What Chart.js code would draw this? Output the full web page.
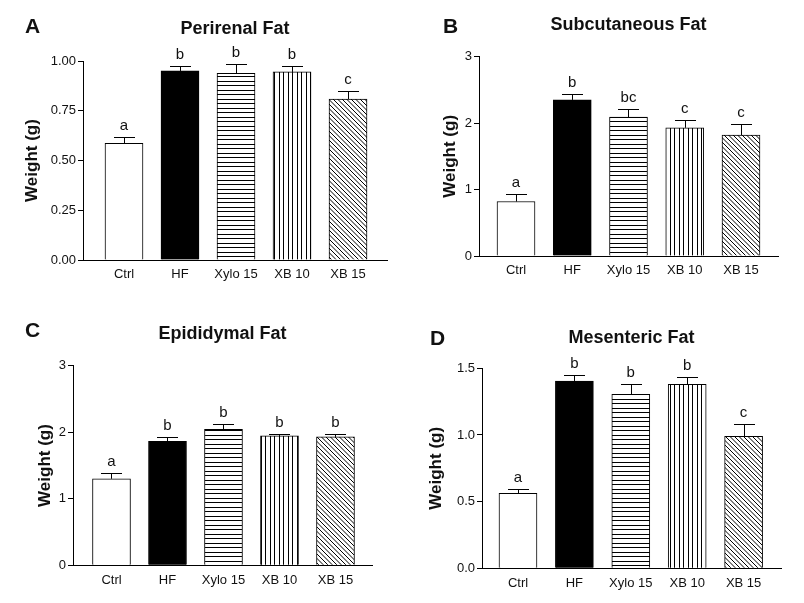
<!DOCTYPE html>
<html>
<head>
<meta charset="utf-8">
<script src="https://cdn.jsdelivr.net/npm/chart.js@4.4.1/dist/chart.umd.min.js"></script>
<style>
body { margin: 0; background: #fff; width: 804px; height: 603px; position: relative; overflow: hidden; }
canvas { position: absolute; }
</style>
</head>
<body>
<canvas id="panelA" width="400" height="300" style="left:0;top:0"></canvas>
<canvas id="panelB" width="404" height="300" style="left:400px;top:0"></canvas>
<canvas id="panelC" width="400" height="303" style="left:0;top:300px"></canvas>
<canvas id="panelD" width="404" height="303" style="left:400px;top:300px"></canvas>
<script>
// groups on the x axis
const groups = ['Ctrl', 'HF', 'Xylo 15', 'XB 10', 'XB 15'];

// A - perirenal fat
const perirenalMean = [0.586, 0.950, 0.938, 0.945, 0.809];
const perirenalErr  = [0.034, 0.023, 0.045, 0.031, 0.039];
const perirenalSig  = ['a', 'b', 'b', 'b', 'c'];
const perirenalTicks = [0, 0.25, 0.5, 0.75, 1];

// B - subcutaneous fat
const subcutMean = [0.82, 2.35, 2.09, 1.93, 1.82];
const subcutErr  = [0.11, 0.09, 0.12, 0.11, 0.16];
const subcutSig  = ['a', 'b', 'bc', 'c', 'c'];
const subcutTicks = [0, 1, 2, 3];

// C - epididymal fat
const epidMean = [1.30, 1.865, 2.045, 1.945, 1.93];
const epidErr  = [0.08, 0.06, 0.085, 0.035, 0.05];
const epidSig  = ['a', 'b', 'b', 'b', 'b'];
const epidTicks = [0, 1, 2, 3];

// D - mesenteric fat
const mesMean = [0.5625, 1.405, 1.305, 1.38, 0.99];
const mesErr  = [0.03, 0.047, 0.08, 0.057, 0.09];
const mesSig  = ['a', 'b', 'b', 'b', 'c'];
const mesTicks = [0, 0.5, 1, 1.5];

const FONT = '"Liberation Sans", Arial, sans-serif';
const INK = '#111';

function makePattern(kind) {
	const t = document.createElement('canvas');
	t.width = 9; t.height = 9;
	const g = t.getContext('2d');
	g.fillStyle = '#fff';
	g.fillRect(0, 0, 9, 9);
	g.fillStyle = '#000';
	if (kind == 'h') {
		g.fillRect(0, 0, 9, 1);
		g.fillRect(0, 4, 9, 1);
	} else if (kind == 'v') {
		g.fillRect(0, 0, 1, 9);
		g.fillRect(4, 0, 1, 9);
	} else {
		g.strokeStyle = '#000';
		g.lineWidth = 1;
		for (let k of [-9, -4.5, 0, 4.5, 9]) {
			g.beginPath();
			g.moveTo(k, 0);
			g.lineTo(k + 9, 9);
			g.stroke();
		}
	}
	return g.createPattern(t, 'repeat');
}
const fills = ['#fff', '#000', makePattern('h'), makePattern('v'), makePattern('d')];

// error bars, significance letters, panel letter and title
const decorPlugin = {
	id: 'decor',
	afterDatasetsDraw(chart) {
		const p = chart.options.plugins.decor;
		const ctx = chart.ctx;
		const ys = chart.scales.y;
		const bars = chart.getDatasetMeta(0).data;
		ctx.save();
		ctx.strokeStyle = '#000';
		ctx.lineWidth = 1;
		ctx.fillStyle = INK;
		ctx.font = '15px ' + FONT;
		ctx.textAlign = 'center';
		ctx.textBaseline = 'alphabetic';
		bars.forEach((bar, i) => {
			const x = Math.round(bar.x) + 0.5;
			const yTop = Math.round(ys.getPixelForValue(p.mean[i] + p.err[i])) + 0.5;
			ctx.beginPath();
			ctx.moveTo(x, bar.y);
			ctx.lineTo(x, yTop);
			ctx.moveTo(x - 10.5, yTop);
			ctx.lineTo(x + 10.5, yTop);
			ctx.stroke();
			ctx.fillText(p.sig[i], bar.x, yTop - 8);
		});
		const area = chart.chartArea;
		ctx.font = 'bold 18px ' + FONT;
		ctx.fillText(p.title, (area.left + area.right) / 2, p.titleBase);
		ctx.textAlign = 'left';
		ctx.font = 'bold 21px ' + FONT;
		ctx.fillText(p.letter, p.letterX, p.letterBase);
		ctx.restore();
	}
};

function drawPanel(id, mean, err, sig, ticks, lay) {
	const canvas = document.getElementById(id);
	const W = canvas.width, H = canvas.height;
	const yLeft = lay.yTitleX - 10.2;
	new Chart(canvas, {
		type: 'bar',
		data: {
			datasets: [{
				data: mean.map((v, i) => ({x: i, y: v})),
				backgroundColor: fills,
				borderColor: '#000',
				borderWidth: 1,
				barThickness: 38
			}]
		},
		options: {
			responsive: false,
			animation: false,
			layout: {
				padding: {
					left: yLeft,
					top: lay.top,
					right: W - lay.right,
					bottom: H - lay.bottom - 30
				}
			},
			scales: {
				x: {
					type: 'linear',
					offset: false,
					min: lay.xmin,
					max: lay.xmax,
					afterBuildTicks: s => { s.ticks = groups.map((g, i) => ({value: i})); },
					afterFit: s => { s.height = 30; },
					ticks: {
						callback: v => groups[v],
						font: {family: FONT, size: 13},
						color: INK,
						padding: 7,
						maxRotation: 0,
						autoSkip: false
					},
					grid: {display: false, drawTicks: false, offset: false},
					border: {display: true, color: '#000', width: 1}
				},
				y: {
					min: 0,
					max: ticks[ticks.length - 1],
					afterBuildTicks: s => { s.ticks = ticks.map(v => ({value: v})); },
					afterFit: s => { s.width = lay.left - yLeft; },
					ticks: {
						callback: v => v.toFixed(lay.dec),
						font: {family: FONT, size: 13},
						color: INK,
						padding: 2
					},
					grid: {drawOnChartArea: false, drawTicks: true, tickLength: 5, color: '#000', lineWidth: 1},
					border: {display: true, color: '#000', width: 1},
					title: {
						display: true,
						text: 'Weight (g)',
						font: {family: FONT, size: 17, weight: 'bold', lineHeight: 1.2},
						color: INK,
						padding: 0
					}
				}
			},
			plugins: {
				legend: {display: false},
				tooltip: {enabled: false},
				decor: {
					mean: mean, err: err, sig: sig,
					title: lay.title, titleBase: lay.titleBase,
					letter: lay.letter, letterX: lay.letterX, letterBase: lay.letterBase
				}
			}
		},
		plugins: [decorPlugin]
	});
}

drawPanel('panelA', perirenalMean, perirenalErr, perirenalSig, perirenalTicks,
	{title: 'Perirenal Fat', letter: 'A', letterX: 25, letterBase: 33, titleBase: 34,
	 left: 83, right: 387, top: 61, bottom: 260, yTitleX: 32, xmin: -0.732, xmax: 4.696, dec: 2});
drawPanel('panelB', subcutMean, subcutErr, subcutSig, subcutTicks,
	{title: 'Subcutaneous Fat', letter: 'B', letterX: 43, letterBase: 33, titleBase: 30,
	 left: 79, right: 378, top: 56.7, bottom: 256, yTitleX: 50, xmin: -0.658, xmax: 4.658, dec: 0});
drawPanel('panelC', epidMean, epidErr, epidSig, epidTicks,
	{title: 'Epididymal Fat', letter: 'C', letterX: 25, letterBase: 37, titleBase: 38.5,
	 left: 73, right: 372, top: 65.7, bottom: 265.3, yTitleX: 45, xmin: -0.6875, xmax: 4.652, dec: 0});
drawPanel('panelD', mesMean, mesErr, mesSig, mesTicks,
	{title: 'Mesenteric Fat', letter: 'D', letterX: 30, letterBase: 45, titleBase: 42.7,
	 left: 82, right: 381, top: 68.3, bottom: 268.3, yTitleX: 36, xmin: -0.638, xmax: 4.663, dec: 1});
</script>
</body>
</html>
